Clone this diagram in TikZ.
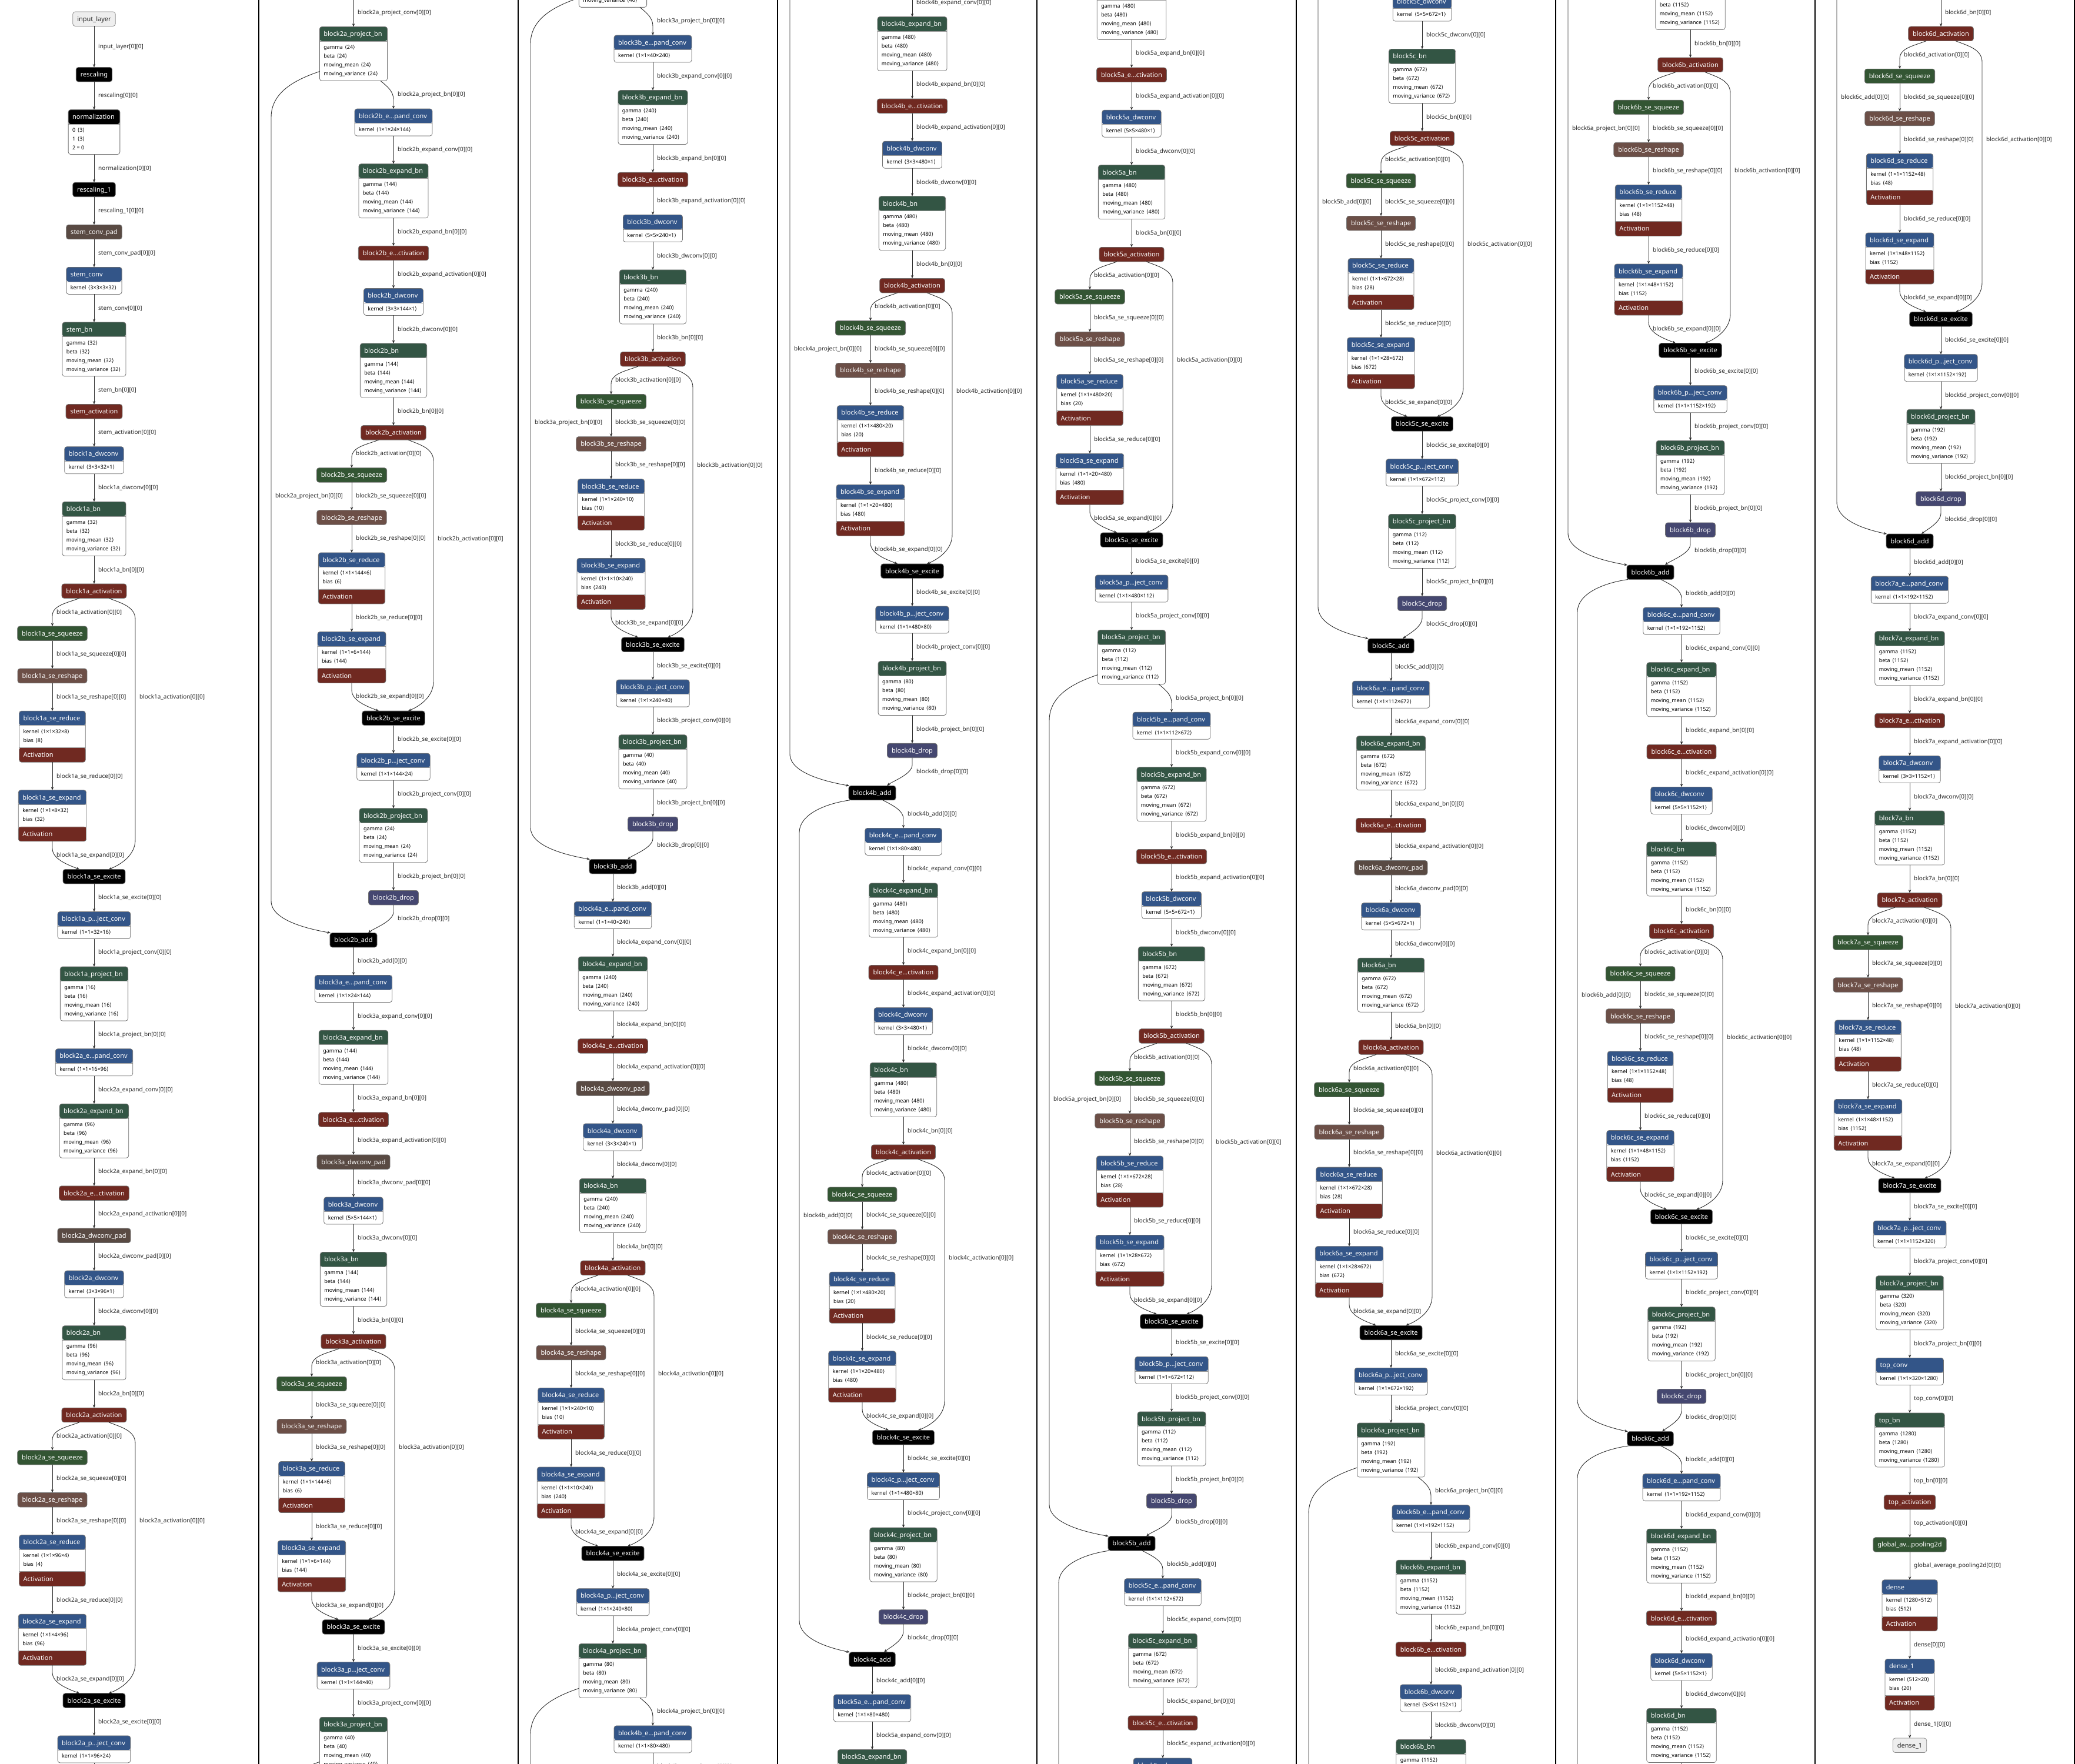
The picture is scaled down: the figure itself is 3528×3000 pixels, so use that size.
\documentclass[tikz,border=0pt]{standalone}
\usepackage{fontspec}
\setmainfont{Noto Sans}
\newfontfamily\djv{DejaVu Sans}
\usetikzlibrary{arrows.meta}
\definecolor{cLayer}{RGB}{51,85,136}
\definecolor{cAct}{RGB}{112,41,33}
\definecolor{cPool}{RGB}{51,85,51}
\definecolor{cNorm}{RGB}{51,85,68}
\definecolor{cDrop}{RGB}{69,71,112}
\definecolor{cShape}{RGB}{108,79,71}
\definecolor{cTensor}{RGB}{89,74,67}
\definecolor{cIO}{RGB}{238,238,238}
\definecolor{cEdge}{RGB}{45,45,45}
\renewcommand\arraystretch{0}
\newcommand\ttl{\fontsize{11}{13}\selectfont}
\newcommand\atf{\fontsize{9}{11}\selectfont}
\newcommand\lbf{\fontsize{10}{12}\selectfont}
\newcommand\hdr[1]{\rule[-8.25pt]{0pt}{24.5pt}#1}
\newcommand\ftr[1]{\rule[-8.5pt]{0pt}{25pt}#1}
\newcommand\ang[1]{{\djv ⟨}#1{\djv ⟩}}
\newcommand\arow[2]{\rule[-4.5pt]{0pt}{15pt}{\atf\color{black}\textbf{#1}\hspace{3.5pt}#2}}
\newcommand\Sc[1]{\hbox{\hspace{7.5pt}\ttl\hdr{#1}\hspace{7.5pt}}}
\newcommand\Kc[3]{\begin{tabular}{@{\hspace{7pt}}l@{\hspace{9pt}}}{\ttl\color{white}\hdr{#1}}\\\rule{0pt}{3pt}\\\arow{#2}{#3}\\\rule[-3.5pt]{0pt}{3.5pt}\end{tabular}}
\newcommand\Bc[2]{\begin{tabular}{@{\hspace{7pt}}l@{\hspace{9pt}}}{\ttl\color{white}\hdr{#1}}\\\rule{0pt}{3pt}\\\arow{gamma}{\ang{#2}}\\\arow{beta}{\ang{#2}}\\\arow{moving\_mean}{\ang{#2}}\\\arow{moving\_variance}{\ang{#2}}\\\rule[-4.5pt]{0pt}{4.5pt}\end{tabular}}
\newcommand\Rc[3]{\begin{tabular}{@{\hspace{7pt}}l@{\hspace{9pt}}}{\ttl\color{white}\hdr{#1}}\\\rule{0pt}{3pt}\\\arow{kernel}{\ang{#2}}\\\arow{bias}{\ang{#3}}\\\rule[-4.5pt]{0pt}{4.5pt}\\{\ttl\color{white}\ftr{Activation}}\end{tabular}}
\newcommand\Nc{\begin{tabular}{@{\hspace{7pt}}l@{\hspace{9pt}}}{\ttl\color{white}\hdr{normalization}}\\\rule{0pt}{3pt}\\\arow{0}{\ang{3}}\\\arow{1}{\ang{3}}\\\rule[-4.5pt]{0pt}{15pt}{\atf\color{black}2 = 0}\\\rule[-3.5pt]{0pt}{3.5pt}\end{tabular}}

\tikzset{
 nbox/.style={draw=black!55, line width=0.8pt, rounded corners=4pt, inner sep=0pt, outer sep=0pt, anchor=north},
 snode/.style={nbox, fill=#1, text=white},
 ionode/.style={nbox, fill=cIO, text=black!85, draw=black!45},
 anode/.style={nbox, fill=white, path picture={\fill[#1] (path picture bounding box.north west) rectangle ([yshift=-24.5pt]path picture bounding box.north east);\draw[black!40, line width=0.6pt] ([yshift=-24.5pt]path picture bounding box.north west) -- ([yshift=-24.5pt]path picture bounding box.north east);}},
 rnode/.style={nbox, fill=white, path picture={\fill[cLayer] (path picture bounding box.north west) rectangle ([yshift=-24.5pt]path picture bounding box.north east);\fill[cAct] (path picture bounding box.south west) rectangle ([yshift=25pt]path picture bounding box.south east);\draw[black!40, line width=0.6pt] ([yshift=-24.5pt]path picture bounding box.north west) -- ([yshift=-24.5pt]path picture bounding box.north east);\draw[black!40, line width=0.6pt] ([yshift=25pt]path picture bounding box.south west) -- ([yshift=25pt]path picture bounding box.south east);}},
 conn/.style={draw=cEdge, line width=0.9pt, -{Stealth[length=5.5pt,width=4.5pt]}},
 elbl/.style={anchor=west, inner sep=0pt, font=\lbf, text=black!85},
 sepline/.style={draw=black, line width=1.6pt},
}

\newsavebox\nbx
\newif\ifmeasure
\makeatletter
\newcommand\wdnum{\strip@pt\wd\nbx}
\newcommand\gX[1]{\csname X@#1\endcsname}
\newcommand\gT[1]{\csname T@#1\endcsname}
\newcommand\gB[1]{\csname B@#1\endcsname}
\newcommand\gW[1]{\csname W@#1\endcsname}
\makeatother

\newcommand\place[5]{%
 \ifmeasure
  \sbox\nbx{\normalfont #5}%
  \expandafter\xdef\csname W@#1\endcsname{\wdnum}%
 \fi
 \expandafter\xdef\csname X@#1\endcsname{#2}%
 \expandafter\xdef\csname T@#1\endcsname{\cy}%
 \expandafter\xdef\csname B@#1\endcsname{\fpeval{\cy+#3}}%
 \ifnum\fpeval{((\cy+#3-\soff) > -80) && ((\cy-\soff) < 3080)}=1
  \edef\nx{\fpeval{#2+\xoff}}\edef\ny{\fpeval{\soff-\cy}}%
  \node[#4] (#1) at (\nx,\ny) {#5};%
 \fi
 \xdef\cy{\fpeval{\cy+#3+47.6}}%
}
\newcommand\Sn[4]{\place{#1}{#2}{24.5}{snode=#3}{\Sc{#4}}}
\newcommand\Kn[5]{\place{#1}{#2}{46}{anode=cLayer}{\Kc{#3}{#4}{\ang{#5}}}}
\newcommand\Bn[4]{\place{#1}{#2}{92}{anode=cNorm}{\Bc{#3}{#4}}}
\newcommand\Rn[5]{\place{#1}{#2}{87}{rnode}{\Rc{#3}{#4}{#5}}}

\newcommand\inwin[2]{\fpeval{(((#2)-\soff) > -80) && (((#1)-\soff) < 3080)}}

% straight edge
\newcommand\eS[3]{%
 \ifnum\inwin{\gB{#1}}{\gT{#2}}=1
  \edef\qxa{\fpeval{\gX{#1}+\xoff}}\edef\qya{\fpeval{\soff-\gB{#1}}}\edef\qyb{\fpeval{\soff-\gT{#2}}}%
  \edef\qlx{\fpeval{\qxa+7}}\edef\qly{\fpeval{(\qya+\qyb)/2}}%
  \draw[conn] (\qxa,\qya) -- (\qxa,\qyb);%
  \node[elbl] at (\qlx,\qly) {#3};%
 \fi}
% bend from a (offset) to b centre
\newcommand\eB[4]{%
 \ifnum\inwin{\gB{#1}}{\gT{#2}}=1
  \edef\qxa{\fpeval{\gX{#1}+#3+\xoff}}\edef\qya{\fpeval{\soff-\gB{#1}}}%
  \edef\qxb{\fpeval{\gX{#2}+\xoff}}\edef\qyb{\fpeval{\soff-\gT{#2}}}%
  \edef\qca{\fpeval{\qxa+0.55*(\qxb-\qxa)}}\edef\qcb{\fpeval{\qya-10}}%
  \edef\qcc{\fpeval{\qya-18}}\edef\qcd{\fpeval{\qya-32}}%
  \edef\qlx{\fpeval{\qxb+7}}\edef\qly{\fpeval{(\qya+\qyb)/2}}%
  \draw[conn] (\qxa,\qya) .. controls (\qca,\qcb) and (\qxb,\qcc) .. (\qxb,\qcd) -- (\qxb,\qyb);%
  \node[elbl] at (\qlx,\qly) {#4};%
 \fi}
% drop -> add
\newcommand\eD[4]{%
 \ifnum\inwin{\gB{#1}}{\gT{#2}}=1
  \edef\qxa{\fpeval{\gX{#1}+\xoff}}\edef\qya{\fpeval{\soff-\gB{#1}}}%
  \edef\qxb{\fpeval{\gX{#2}+#3+\xoff}}\edef\qyb{\fpeval{\soff-\gT{#2}}}%
  \edef\qcb{\fpeval{\qya-12}}\edef\qcc{\fpeval{\qya-28}}%
  \edef\qca{\fpeval{\qxb+10}}\edef\qcd{\fpeval{\qyb+8}}%
  \edef\qlx{\fpeval{\qxa+7}}\edef\qly{\fpeval{(\qya+\qyb)/2}}%
  \draw[conn] (\qxa,\qya) -- (\qxa,\qcb) .. controls (\qxa,\qcc) and (\qca,\qcd) .. (\qxb,\qyb);%
  \node[elbl] at (\qlx,\qly) {#4};%
 \fi}
% activation -> squeeze
\newcommand\eQ[3]{%
 \ifnum\inwin{\gB{#1}}{\gT{#2}}=1
  \edef\qxa{\fpeval{\gX{#1}-25+\xoff}}\edef\qya{\fpeval{\soff-\gB{#1}}}%
  \edef\qxb{\fpeval{\gX{#2}+\xoff}}\edef\qyb{\fpeval{\soff-\gT{#2}}}%
  \edef\qca{\fpeval{\qxa-0.45*(\qxa-\qxb)}}\edef\qcb{\fpeval{\qya-8}}%
  \edef\qcc{\fpeval{\qya-12}}\edef\qcd{\fpeval{\qya-30}}%
  \edef\qlx{\fpeval{\qxb+7}}\edef\qly{\fpeval{(\qya+\qyb)/2}}%
  \draw[conn] (\qxa,\qya) .. controls (\qca,\qcb) and (\qxb,\qcc) .. (\qxb,\qcd) -- (\qxb,\qyb);%
  \node[elbl] at (\qlx,\qly) {#3};%
 \fi}
% se_expand -> se_excite
\newcommand\eX[3]{%
 \ifnum\inwin{\gB{#1}}{\gT{#2}}=1
  \edef\qxa{\fpeval{\gX{#1}+\xoff}}\edef\qya{\fpeval{\soff-\gB{#1}}}%
  \edef\qxb{\fpeval{\gX{#2}-25+\xoff}}\edef\qyb{\fpeval{\soff-\gT{#2}}}%
  \edef\qcb{\fpeval{\qya-12}}\edef\qcc{\fpeval{\qya-30}}%
  \edef\qca{\fpeval{\qxb-0.45*(\qxb-\qxa)}}\edef\qcd{\fpeval{\qyb+8}}%
  \edef\qlx{\fpeval{\qxa+7}}\edef\qly{\fpeval{(\qya+\qyb)/2}}%
  \draw[conn] (\qxa,\qya) -- (\qxa,\qcb) .. controls (\qxa,\qcc) and (\qca,\qcd) .. (\qxb,\qyb);%
  \node[elbl] at (\qlx,\qly) {#3};%
 \fi}
% SE skip: act -> excite via x=K
\newcommand\eK[6]{%
 \ifnum\inwin{\gB{#1}}{\gT{#2}}=1
  \edef\qxa{\fpeval{\gX{#1}+25+\xoff}}\edef\qya{\fpeval{\soff-\gB{#1}}}%
  \edef\qxb{\fpeval{\gX{#2}+25+\xoff}}\edef\qyb{\fpeval{\soff-\gT{#2}}}%
  \edef\qxk{\fpeval{#3+\xoff}}%
  \edef\qca{\fpeval{\qxa+0.45*(\qxk-\qxa)}}\edef\qcb{\fpeval{\qya-8}}%
  \edef\qcc{\fpeval{\qya-14}}\edef\qcd{\fpeval{\qya-36}}%
  \edef\qce{\fpeval{\qyb+50}}\edef\qcf{\fpeval{\qyb+24}}%
  \edef\qcg{\fpeval{\qxb+0.45*(\qxk-\qxb)}}\edef\qch{\fpeval{\qyb+8}}%
  \edef\qlx{\fpeval{\qxk+7}}\edef\qly{\fpeval{\soff-(\gB{#4}+\gT{#5})/2}}%
  \draw[conn] (\qxa,\qya) .. controls (\qca,\qcb) and (\qxk,\qcc) .. (\qxk,\qcd) -- (\qxk,\qce) .. controls (\qxk,\qcf) and (\qcg,\qch) .. (\qxb,\qyb);%
  \node[elbl] at (\qlx,\qly) {#6};%
 \fi}
% residual skip
\newcommand\eR[7]{%
 \if b#4
  \edef\qsx{\fpeval{\gX{#1}-\gW{#1}/2}}\edef\qsy{\fpeval{\gB{#1}-16}}\def\qdd{78}\def\qde{14}%
 \else
  \edef\qsx{\fpeval{\gX{#1}-\gW{#1}/2+2}}\edef\qsy{\gB{#1}}\def\qdd{55}\def\qde{6}%
 \fi
 \ifnum\inwin{\qsy}{\gT{#2}}=1
  \edef\qxa{\fpeval{\qsx+\xoff}}\edef\qya{\fpeval{\soff-\qsy}}%
  \edef\qxb{\fpeval{\gX{#2}-\gW{#2}/2+1+\xoff}}\edef\qyb{\fpeval{\soff-\gT{#2}}}%
  \edef\qxk{\fpeval{#3+\xoff}}%
  \edef\qca{\fpeval{\qxa-0.5*(\qxa-\qxk)}}\edef\qcb{\fpeval{\qya-\qde}}%
  \edef\qcc{\fpeval{\qya-0.45*\qdd}}\edef\qcd{\fpeval{\qya-\qdd}}%
  \edef\qce{\fpeval{\qyb+54}}\edef\qcf{\fpeval{\qyb+22}}%
  \edef\qcg{\fpeval{\qxb-0.4*(\qxb-\qxk)}}\edef\qch{\fpeval{\qyb+7}}%
  \edef\qlx{\fpeval{\qxk+7}}\edef\qly{\fpeval{\soff-(\gB{#5}+\gT{#6})/2}}%
  \draw[conn] (\qxa,\qya) .. controls (\qca,\qcb) and (\qxk,\qcc) .. (\qxk,\qcd) -- (\qxk,\qce) .. controls (\qxk,\qcf) and (\qcg,\qch) .. (\qxb,\qyb);%
  \node[elbl] at (\qlx,\qly) {#7};%
 \fi}

\newcommand\chainin[1]{%
 \if b\mode \eB{\prevn}{#1}{46}{\prevl}%
 \else\if c\mode \eB{\prevn}{#1}{18}{\prevl}%
 \else \eS{\prevn}{#1}{\prevl}\fi\fi}

% #1 prefix, #2 mode, #3 expand, #4 pad, #5 cin, #6 cexp, #7 k, #8 cse, #9 cout
\newcommand\block[9]{%
 \def\mode{#2}%
 \if a#2\def\M{160}\def\E{89}\def\K{230}\def\R{0}\def\DO{25}\fi
 \if b#2\def\M{228}\def\E{157}\def\K{296}\def\R{20}\def\DO{25}\fi
 \if c#2\def\M{213}\def\E{143}\def\K{283}\def\R{36}\def\DO{20}\fi
 \let\skipn\prevn \let\skipl\prevl
 \ifnum#3=1
  \Kn{#1-ec}{\M}{#1\_e…pand\_conv}{kernel}{1×1×#5×#6}\chainin{#1-ec}%
  \Bn{#1-ebn}{\M}{#1\_expand\_bn}{#6}\eS{#1-ec}{#1-ebn}{#1\_expand\_conv[0][0]}%
  \Sn{#1-eact}{\M}{cAct}{#1\_e…ctivation}\eS{#1-ebn}{#1-eact}{#1\_expand\_bn[0][0]}%
  \def\lastn{#1-eact}\def\lastl{#1\_expand\_activation[0][0]}%
  \ifnum#4=1
   \Sn{#1-pad}{\M}{cTensor}{#1\_dwconv\_pad}\eS{#1-eact}{#1-pad}{#1\_expand\_activation[0][0]}%
   \def\lastn{#1-pad}\def\lastl{#1\_dwconv\_pad[0][0]}%
  \fi
  \Kn{#1-dw}{\M}{#1\_dwconv}{kernel}{#7×#7×#6×1}\eS{\lastn}{#1-dw}{\lastl}%
 \else
  \Kn{#1-dw}{\M}{#1\_dwconv}{kernel}{#7×#7×#6×1}\chainin{#1-dw}%
 \fi
 \Bn{#1-bn}{\M}{#1\_bn}{#6}\eS{#1-dw}{#1-bn}{#1\_dwconv[0][0]}%
 \Sn{#1-act}{\M}{cAct}{#1\_activation}\eS{#1-bn}{#1-act}{#1\_bn[0][0]}%
 \Sn{#1-sq}{\E}{cPool}{#1\_se\_squeeze}\eQ{#1-act}{#1-sq}{#1\_activation[0][0]}%
 \Sn{#1-rs}{\E}{cShape}{#1\_se\_reshape}\eS{#1-sq}{#1-rs}{#1\_se\_squeeze[0][0]}%
 \Rn{#1-rd}{\E}{#1\_se\_reduce}{1×1×#6×#8}{#8}\eS{#1-rs}{#1-rd}{#1\_se\_reshape[0][0]}%
 \Rn{#1-ex}{\E}{#1\_se\_expand}{1×1×#8×#6}{#6}\eS{#1-rd}{#1-ex}{#1\_se\_reduce[0][0]}%
 \Sn{#1-xc}{\M}{black}{#1\_se\_excite}\eX{#1-ex}{#1-xc}{#1\_se\_expand[0][0]}%
 \eK{#1-act}{#1-xc}{\K}{#1-rs}{#1-rd}{#1\_activation[0][0]}%
 \Kn{#1-pc}{\M}{#1\_p…ject\_conv}{kernel}{1×1×#6×#9}\eS{#1-xc}{#1-pc}{#1\_se\_excite[0][0]}%
 \Bn{#1-pb}{\M}{#1\_project\_bn}{#9}\eS{#1-pc}{#1-pb}{#1\_project\_conv[0][0]}%
 \if a#2
  \gdef\prevn{#1-pb}\gdef\prevl{#1\_project\_bn[0][0]}%
 \else
  \Sn{#1-dr}{\M}{cDrop}{#1\_drop}\eS{#1-pb}{#1-dr}{#1\_project\_bn[0][0]}%
  \Sn{#1-ad}{160}{black}{#1\_add}\eD{#1-dr}{#1-ad}{\DO}{#1\_drop[0][0]}%
  \eR{\skipn}{#1-ad}{\R}{#2}{#1-sq}{#1-rs}{\skipl}%
  \gdef\prevn{#1-ad}\gdef\prevl{#1\_add[0][0]}%
 \fi
}

\newcommand\drawgraph{%
 \xdef\cy{20}%
 \place{input_layer}{160}{24.5}{ionode}{\Sc{input\_layer}}%
 \xdef\cy{114.5}%
 \Sn{rescaling}{160}{black}{rescaling}\eS{input_layer}{rescaling}{input\_layer[0][0]}%
 \place{normalization}{160}{76}{anode=black}{\Nc}\eS{rescaling}{normalization}{rescaling[0][0]}%
 \Sn{rescaling_1}{160}{black}{rescaling\_1}\eS{normalization}{rescaling_1}{normalization[0][0]}%
 \Sn{stem_conv_pad}{160}{cTensor}{stem\_conv\_pad}\eS{rescaling_1}{stem_conv_pad}{rescaling\_1[0][0]}%
 \Kn{stem_conv}{160}{stem\_conv}{kernel}{3×3×3×32}\eS{stem_conv_pad}{stem_conv}{stem\_conv\_pad[0][0]}%
 \Bn{stem_bn}{160}{stem\_bn}{32}\eS{stem_conv}{stem_bn}{stem\_conv[0][0]}%
 \Sn{stem_activation}{160}{cAct}{stem\_activation}\eS{stem_bn}{stem_activation}{stem\_bn[0][0]}%
 \gdef\prevn{stem_activation}\gdef\prevl{stem\_activation[0][0]}%
 \block{block1a}{a}{0}{0}{32}{32}{3}{8}{16}%
 \block{block2a}{a}{1}{1}{16}{96}{3}{4}{24}%
 \block{block2b}{b}{1}{0}{24}{144}{3}{6}{24}%
 \block{block3a}{a}{1}{1}{24}{144}{5}{6}{40}%
 \block{block3b}{b}{1}{0}{40}{240}{5}{10}{40}%
 \block{block4a}{a}{1}{1}{40}{240}{3}{10}{80}%
 \block{block4b}{b}{1}{0}{80}{480}{3}{20}{80}%
 \block{block4c}{c}{1}{0}{80}{480}{3}{20}{80}%
 \block{block5a}{a}{1}{0}{80}{480}{5}{20}{112}%
 \block{block5b}{b}{1}{0}{112}{672}{5}{28}{112}%
 \block{block5c}{c}{1}{0}{112}{672}{5}{28}{112}%
 \block{block6a}{a}{1}{1}{112}{672}{5}{28}{192}%
 \block{block6b}{b}{1}{0}{192}{1152}{5}{48}{192}%
 \block{block6c}{c}{1}{0}{192}{1152}{5}{48}{192}%
 \block{block6d}{c}{1}{0}{192}{1152}{5}{48}{192}%
 \block{block7a}{a}{1}{0}{192}{1152}{3}{48}{320}%
 \Kn{top_conv}{160}{top\_conv}{kernel}{1×1×320×1280}\eS{\prevn}{top_conv}{\prevl}%
 \Bn{top_bn}{160}{top\_bn}{1280}\eS{top_conv}{top_bn}{top\_conv[0][0]}%
 \Sn{top_activation}{160}{cAct}{top\_activation}\eS{top_bn}{top_activation}{top\_bn[0][0]}%
 \Sn{gap}{160}{cPool}{global\_av…pooling2d}\eS{top_activation}{gap}{top\_activation[0][0]}%
 \Rn{dense}{160}{dense}{1280×512}{512}\eS{gap}{dense}{global\_average\_pooling2d[0][0]}%
 \Rn{dense_1}{160}{dense\_1}{512×20}{20}\eS{dense}{dense_1}{dense[0][0]}%
 \place{output}{160}{24.5}{ionode}{\Sc{dense\_1}}\eS{dense_1}{output}{dense\_1[0][0]}%
}

\begin{document}
\setbox0=\hbox{\measuretrue\def\xoff{0}\def\soff{-100000}\drawgraph}%
\begin{tikzpicture}[x=1pt,y=1pt]
\useasboundingbox (0,0) rectangle (3528,-3000);
\fill[white] (0,0) rectangle (3528,-3000);
\foreach \k in {0,...,7}{
 \begin{scope}
  \clip ({441*\k},0) rectangle ({441*\k+441},-3000);
  \edef\xoff{\fpeval{441*\k}}\edef\soff{\fpeval{3000*\k}}
  \drawgraph
 \end{scope}
}
\foreach \k in {1,...,8}{\draw[sepline] ({441*\k-0.8},0) -- ({441*\k-0.8},-3000);}
\end{tikzpicture}
\end{document}
